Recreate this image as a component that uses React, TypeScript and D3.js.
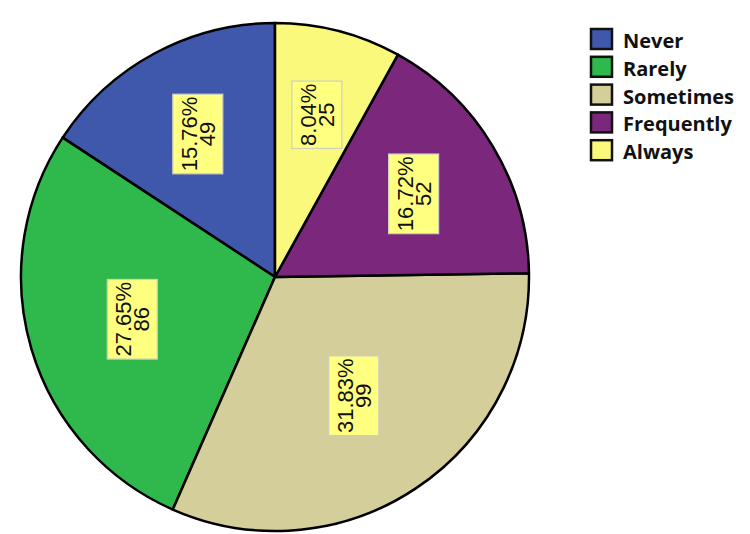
import React, { useEffect, useRef } from 'react';
import * as d3 from 'd3';

const categories = ['Never', 'Rarely', 'Sometimes', 'Frequently', 'Always'];
const counts = [49, 86, 99, 52, 25];
const colors = ['#3f58ac', '#2fb84b', '#d4ce9a', '#7b287c', '#fbf97b'];

const W = 750;
const H = 534;

export default function App() {
  const ref = useRef<SVGSVGElement | null>(null);

  useEffect(() => {
    const svg = d3.select(ref.current);
    svg.selectAll('*').remove();

    const cx = 275, cy = 277, r = 254;
    const total = d3.sum(counts);
    const data = categories.map((c, i) => ({ c, v: counts[i], color: colors[i] }));

    const pie = d3.pie<any>().sort(null).value((d: any) => d.v).startAngle(0).endAngle(-2 * Math.PI);
    const arcs = pie(data);
    const arcGen = d3.arc<any>().innerRadius(0).outerRadius(r);

    const g = svg.append('g').attr('transform', `translate(${cx},${cy})`);
    g.selectAll('path.slice')
      .data(arcs)
      .join('path')
      .attr('class', 'slice')
      .attr('d', arcGen as any)
      .attr('fill', (d: any) => d.data.color)
      .attr('stroke', '#000')
      .attr('stroke-width', 2.5)
      .attr('stroke-linejoin', 'round');

    // labels
    const fs = 22;
    const lineGap = 18;
    arcs.forEach((a: any) => {
      const mid = (a.startAngle + a.endAngle) / 2;
      const theta = Math.abs(a.endAngle - a.startAngle);
      const dist = (2 * r * Math.sin(theta / 2)) / (3 * (theta / 2));
      const lx = Math.sin(mid) * dist;
      const ly = -Math.cos(mid) * dist;
      const pct = ((a.data.v / total) * 100).toFixed(2) + '%';
      const lg = g.append('g').attr('transform', `translate(${lx},${ly}) rotate(-90)`);
      const rect = lg.append('rect');
      const t1 = lg.append('text')
        .attr('x', 0).attr('y', -lineGap / 2 + 8)
        .attr('text-anchor', 'middle')
        .attr('font-family', '"Liberation Sans", Arial, sans-serif')
        .attr('font-size', fs)
        .attr('fill', '#111')
        .text(pct);
      const t2 = lg.append('text')
        .attr('x', 0).attr('y', lineGap / 2 + 8)
        .attr('text-anchor', 'middle')
        .attr('font-family', '"Liberation Sans", Arial, sans-serif')
        .attr('font-size', fs)
        .attr('fill', '#111')
        .text(String(a.data.v));
      const w = Math.max((t1.node() as SVGTextElement).getComputedTextLength(), (t2.node() as SVGTextElement).getComputedTextLength()) + 5;
      const h = 50;
      rect.attr('x', -w / 2).attr('y', -h / 2).attr('width', w).attr('height', h)
        .attr('fill', '#ffff80')
        .attr('stroke', '#cfcfc0')
        .attr('stroke-width', 1.2);
    });

    // legend
    const lgX = 591, lgY = 29, step = 27.8;
    const leg = svg.append('g');
    data.forEach((d, i) => {
      const y = lgY + i * step;
      leg.append('rect')
        .attr('x', lgX).attr('y', y).attr('width', 21).attr('height', 20)
        .attr('fill', d.color)
        .attr('stroke', '#111')
        .attr('stroke-width', 2.5);
      leg.append('text')
        .attr('x', 623).attr('y', y + 19)
        .attr('font-family', '"Open Sans", "Noto Sans", sans-serif')
        .attr('font-weight', 700)
        .attr('font-size', 20)
        .attr('fill', '#111')
        .text(d.c);
    });
  }, []);

  return (
    <svg
      ref={ref}
      width={W}
      height={H}
      style={{ position: 'absolute', left: 0, top: 0, background: '#fff' }}
    />
  );
}
